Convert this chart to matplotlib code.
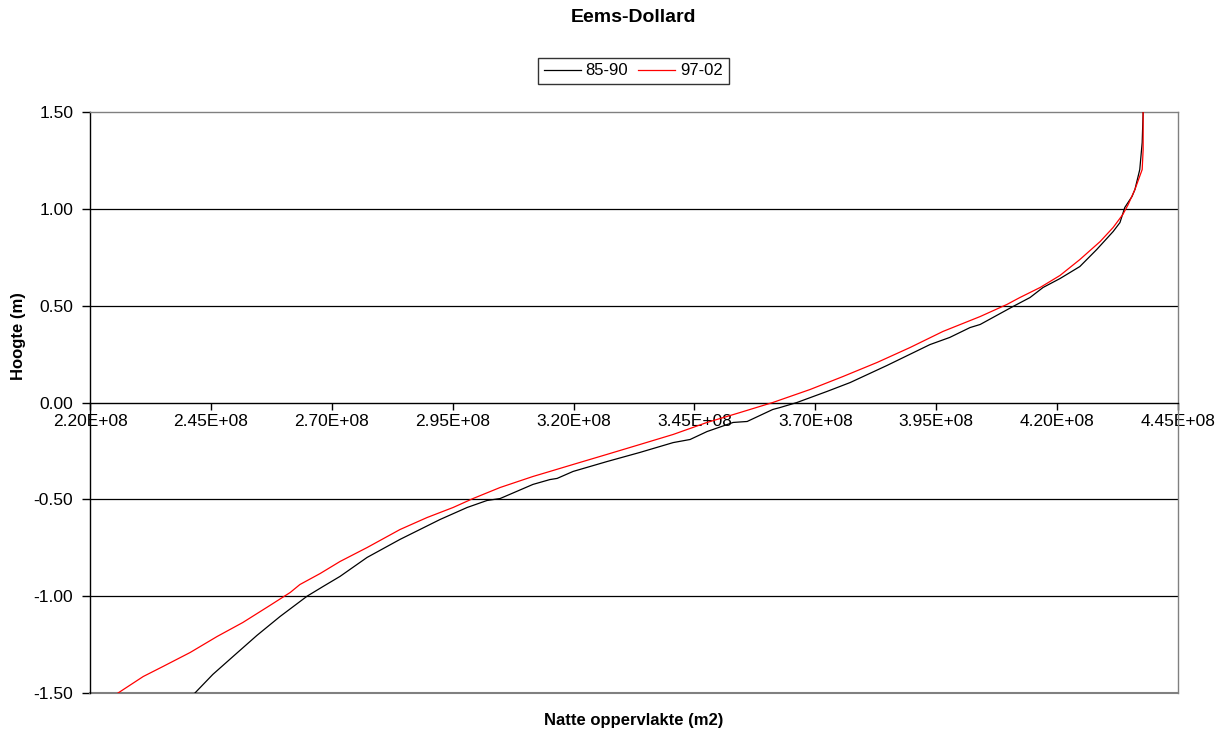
# Hypsometric curve Eems-Dollard: wet surface area against elevation
# for the periods 85-90 and 97-02

import numpy as np
import matplotlib.pyplot as plt
from matplotlib.ticker import FuncFormatter

plt.rcParams['font.family'] = ['Liberation Sans', 'DejaVu Sans']


# Data ........................................................................

# 85-90: wet area (m2) and elevation (m)
area_8590 = [2.417e8, 2.454e8, 2.496e8, 2.545e8, 2.593e8, 2.649e8, 2.682e8,
             2.717e8, 2.773e8, 2.841e8, 2.924e8, 2.980e8, 3.021e8, 3.048e8,
             3.116e8, 3.151e8, 3.166e8, 3.199e8, 3.269e8, 3.337e8, 3.406e8,
             3.441e8, 3.476e8, 3.530e8, 3.559e8, 3.612e8, 3.627e8, 3.662e8,
             3.724e8, 3.772e8, 3.848e8, 3.937e8, 3.978e8, 4.020e8, 4.041e8,
             4.109e8, 4.144e8, 4.171e8, 4.206e8, 4.247e8, 4.282e8, 4.316e8,
             4.330e8, 4.340e8, 4.355e8, 4.361e8, 4.371e8, 4.376e8, 4.378e8]
height_8590 = [-1.50, -1.404, -1.311, -1.203, -1.105, -1.000, -0.950,
               -0.898, -0.800, -0.707, -0.604, -0.542, -0.506, -0.496,
               -0.423, -0.398, -0.392, -0.356, -0.305, -0.258, -0.207,
               -0.191, -0.150, -0.103, -0.098, -0.036, -0.026, 0.0,
               0.057, 0.103, 0.191, 0.299, 0.336, 0.387, 0.403,
               0.496, 0.542, 0.594, 0.640, 0.702, 0.790, 0.883,
               0.929, 1.007, 1.064, 1.100, 1.203, 1.342, 1.50]

# 97-02: wet area (m2) and elevation (m)
area_9702 = [2.258e8, 2.310e8, 2.351e8, 2.407e8, 2.463e8, 2.516e8, 2.572e8,
             2.614e8, 2.634e8, 2.676e8, 2.717e8, 2.773e8, 2.841e8, 2.897e8,
             2.951e8, 2.992e8, 3.048e8, 3.116e8, 3.151e8, 3.199e8, 3.269e8,
             3.337e8, 3.406e8, 3.476e8, 3.544e8, 3.612e8, 3.689e8, 3.757e8,
             3.828e8, 3.896e8, 3.964e8, 4.041e8, 4.096e8, 4.123e8, 4.165e8,
             4.206e8, 4.247e8, 4.289e8, 4.316e8, 4.336e8, 4.347e8, 4.361e8,
             4.376e8, 4.378e8, 4.378e8]
height_9702 = [-1.50, -1.415, -1.363, -1.291, -1.208, -1.136, -1.048,
               -0.981, -0.940, -0.883, -0.821, -0.749, -0.656, -0.594,
               -0.542, -0.496, -0.439, -0.382, -0.356, -0.320, -0.268,
               -0.217, -0.165, -0.103, -0.052, 0.0, 0.067, 0.134,
               0.207, 0.284, 0.367, 0.444, 0.506, 0.542, 0.594,
               0.656, 0.738, 0.831, 0.904, 0.971, 1.022, 1.100,
               1.203, 1.306, 1.50]

x_ticks = np.arange(2.20e8, 4.46e8, 0.25e8)
y_ticks = [-1.5, -1.0, -0.5, 0.0, 0.5, 1.0, 1.5]


# Plot ........................................................................

fig = plt.figure(figsize = (12.25, 7.38), dpi = 100)
ax = fig.add_axes([0.0735, 0.0610, 0.8881, 0.7872])

for y in y_ticks:
    if y not in (0.0, -1.5, 1.5):
        ax.axhline(y, color = "black", linewidth = 0.9, zorder = 1)

ax.plot(area_8590, height_8590, color = "black", linewidth = 0.9, label = "85-90", zorder = 3)
ax.plot(area_9702, height_9702, color = "red", linewidth = 0.9, label = "97-02", zorder = 3)

ax.set_xlim(2.20e8, 4.45e8)
ax.set_ylim(-1.5, 1.5)
ax.set_xticks(x_ticks)
ax.set_yticks(y_ticks)
ax.xaxis.set_major_formatter(FuncFormatter(lambda v, p: f"{v:.2E}"))
ax.yaxis.set_major_formatter(FuncFormatter(lambda v, p: f"{v:.2f}"))

# x axis crosses at zero, grey frame around the plot area
ax.spines["bottom"].set_position(("data", 0))
ax.spines["bottom"].set_color("black")
ax.spines["left"].set_color("black")
ax.spines["top"].set_color("#808080")
ax.spines["right"].set_color("#808080")
for s in ax.spines.values():
    s.set_linewidth(1.0)
ax.plot([0, 1], [0, 0], transform = ax.transAxes, color = "#808080",
        linewidth = 1.5, clip_on = False, zorder = 2)

ax.tick_params(axis = "x", direction = "out", length = 5, width = 1,
               labelsize = 12.5, pad = 3)
ax.tick_params(axis = "y", direction = "out", length = 6, width = 1,
               labelsize = 12.5, pad = 6)

fig.text(0.517, 0.976, "Eems-Dollard", ha = "center", va = "center",
         fontsize = 14, fontweight = "bold")
fig.text(0.517, 0.024, "Natte oppervlakte (m2)", ha = "center", va = "center",
         fontsize = 12, fontweight = "bold")
fig.text(0.015, 0.544, "Hoogte (m)", ha = "center", va = "center",
         rotation = 90, fontsize = 12, fontweight = "bold")

leg = fig.legend(loc = "center", bbox_to_anchor = (0.517, 0.904), ncol = 2,
                 frameon = True, fancybox = False, fontsize = 12,
                 handlelength = 2.2, handletextpad = 0.3, columnspacing = 0.6,
                 borderpad = 0.35, borderaxespad = 0)
leg.get_frame().set_edgecolor("black")
leg.get_frame().set_linewidth(1.0)

plt.savefig("out.png", dpi = 100)
